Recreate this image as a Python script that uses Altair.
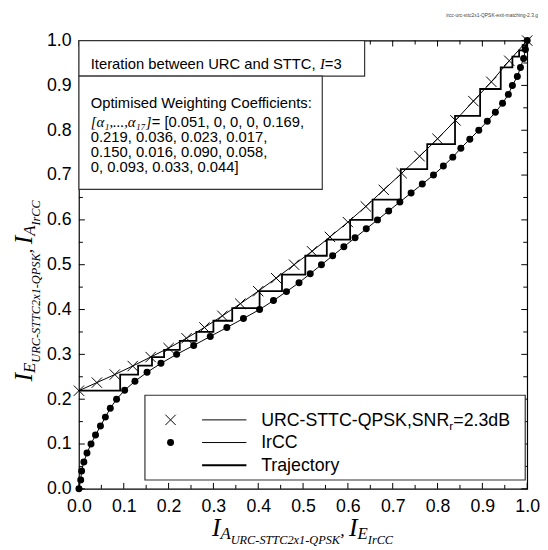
import altair as alt
import pandas as pd

# ---------------- data ----------------
urc_x = [0.00, 0.04, 0.08, 0.12, 0.16, 0.20, 0.24, 0.28, 0.32, 0.36, 0.40, 0.44, 0.48,
         0.52, 0.56, 0.60, 0.64, 0.68, 0.72, 0.76, 0.80, 0.84, 0.88, 0.92, 0.96, 1.00]
urc_y = [0.219, 0.237, 0.255, 0.274, 0.294, 0.314, 0.336, 0.360, 0.386, 0.413, 0.441, 0.470, 0.500,
         0.530, 0.562, 0.595, 0.630, 0.667, 0.704, 0.742, 0.781, 0.822, 0.865, 0.908, 0.955, 1.000]

ircc_y = [0.00, 0.02, 0.04, 0.06, 0.08, 0.10, 0.12, 0.14, 0.16, 0.18, 0.20, 0.22, 0.24, 0.26,
          0.28, 0.30, 0.32, 0.34, 0.36, 0.38, 0.40, 0.42, 0.44, 0.46, 0.48, 0.50, 0.52, 0.54,
          0.56, 0.58, 0.60, 0.62, 0.64, 0.66, 0.68, 0.70, 0.72, 0.74, 0.76, 0.78, 0.80, 0.82,
          0.84, 0.86, 0.88, 0.90, 0.92, 0.94, 0.96, 0.98, 1.00]
ircc_x = [0.000, 0.004, 0.006, 0.011, 0.018, 0.027, 0.037, 0.048, 0.059, 0.070, 0.084, 0.102, 0.125, 0.152,
          0.183, 0.218, 0.256, 0.293, 0.330, 0.367, 0.403, 0.434, 0.463, 0.491, 0.516, 0.541, 0.566, 0.591,
          0.616, 0.641, 0.666, 0.691, 0.716, 0.741, 0.766, 0.791, 0.813, 0.834, 0.852, 0.872, 0.892, 0.911,
          0.929, 0.945, 0.958, 0.967, 0.978, 0.985, 0.992, 0.996, 1.000]

traj_x = [0.000, 0.092, 0.092, 0.132, 0.132, 0.163, 0.163, 0.190, 0.190, 0.225, 0.225, 0.262, 0.262,
          0.300, 0.300, 0.342, 0.342, 0.403, 0.403, 0.453, 0.453, 0.505, 0.505, 0.553, 0.553, 0.605,
          0.605, 0.655, 0.655, 0.718, 0.718, 0.777, 0.777, 0.839, 0.839, 0.895, 0.895, 0.941, 0.941,
          0.967, 0.967, 0.982, 0.982, 0.990, 0.990, 1.000, 1.000]
traj_y = [0.219, 0.219, 0.255, 0.255, 0.275, 0.275, 0.294, 0.294, 0.310, 0.310, 0.330, 0.330, 0.350,
          0.350, 0.375, 0.375, 0.403, 0.403, 0.441, 0.441, 0.478, 0.478, 0.520, 0.520, 0.556, 0.556,
          0.600, 0.600, 0.645, 0.645, 0.713, 0.713, 0.769, 0.769, 0.832, 0.832, 0.892, 0.892, 0.940,
          0.940, 0.964, 0.964, 0.978, 0.978, 0.990, 0.990, 1.000]

major_ticks = [0.0, 0.1, 0.2, 0.3, 0.4, 0.5, 0.6, 0.7, 0.8, 0.9, 1.0]
minor_ticks = [0.05, 0.15, 0.25, 0.35, 0.45, 0.55, 0.65, 0.75, 0.85, 0.95]

legend_labels = ["URC-STTC-QPSK,SNR", "IrCC", "Trajectory"]
box1_text = "Iteration between URC and STTC, "
coef_symbol = "[\u03b1\u2081,...,\u03b1\u2081\u2087]"
box2_lines = ["Optimised Weighting Coefficients:",
              "= [0.051, 0, 0, 0, 0.169,",
              "0.219, 0.036, 0.023, 0.017,",
              "0.150, 0.016, 0.090, 0.058,",
              "0, 0.093, 0.033, 0.044]"]
corner_text = "ircc-urc-sttc2x1-QPSK-exit-matching-2.3.g"

# ---------------- layout helpers ----------------
W = H = 455
SANS = "Liberation Sans"
SERIF = "Liberation Serif"

AR = {' ': 278, ',': 278, '.': 278, '-': 333, '=': 584, '[': 278, ']': 278, ':': 278,
      'A': 667, 'B': 667, 'C': 722, 'D': 722, 'E': 667, 'I': 278, 'K': 667, 'N': 722, 'O': 778,
      'P': 667, 'Q': 778, 'R': 722, 'S': 667, 'T': 611, 'U': 722, 'W': 944,
      'a': 556, 'b': 556, 'c': 500, 'd': 556, 'e': 556, 'f': 278, 'g': 556, 'h': 556, 'i': 222,
      'j': 222, 'l': 222, 'm': 833, 'n': 556, 'o': 556, 'p': 556, 'r': 333, 's': 500, 't': 278,
      'w': 722, 'x': 500, 'y': 500}
for d in "0123456789":
    AR[d] = 556
TI = {' ': 250, ',': 250, '.': 250, '-': 333, '[': 389, ']': 389, 'I': 333, 'A': 611, 'E': 611,
      'U': 722, 'R': 611, 'C': 667, 'S': 500, 'T': 556, 'x': 444, 'Q': 722, 'P': 611, 'K': 667,
      'r': 389, '\u03b1': 520, '\u2081': 330, '\u2087': 330}
for d in "0123456789":
    TI[d] = 500


def width(s, layer, size):
    table = AR if layer == "sans" else TI
    return sum(table.get(c, 500) for c in s) / 1000.0 * size


rows = []


def run(pieces, x0, y0, vertical=False, gap=0.0):
    pos = x0 if not vertical else y0
    for text, size, shift, layer in pieces:
        if vertical:
            rows.append(dict(layer="serif_v", text=text, px=x0 + shift, py=pos, fs=size))
            pos -= width(text, layer, size) + gap
        else:
            rows.append(dict(layer=layer, text=text, px=pos, py=y0 + shift, fs=size))
            pos += width(text, layer, size) + gap


title_pieces = [("I", 26, 0, "serif"), ("A", 17, 3, "serif"), ("URC-STTC2x1-QPSK", 12.5, 8, "serif"),
                (", ", 18, 0, "serif"), ("I", 26, 0, "serif"), ("E", 17, 3, "serif"),
                ("IrCC", 12.5, 8, "serif")]
run(title_pieces, 135, 503)
yt = list(title_pieces)
yt[1] = ("E", 17, 3, "serif")
yt[5] = ("A", 17, 3, "serif")
run(yt, -48, 346, vertical=True)

# box 1 text
run([(box1_text, 15, 0, "sans"), ("I", 15, 0, "serif"), ("=3", 15, 0, "sans")], 12, 28.5)
# box 2 text
rows.append(dict(layer="sans", text=box2_lines[0], px=12, py=68, fs=15))
run([(coef_symbol, 15, 0, "serif"), (box2_lines[1], 15, 0, "sans")], 12, 88, gap=1.0)
for i, line in enumerate(box2_lines[2:]):
    rows.append(dict(layer="sans", text=line, px=12, py=103 + 15 * i, fs=15))

# legend texts
run([(legend_labels[0], 18, 0, "sans"), ("r", 12, 4, "sans"), ("=2.3dB", 18, 0, "sans")], 185, 391)
rows.append(dict(layer="sans", text=legend_labels[1], px=185, py=414, fs=18))
rows.append(dict(layer="sans", text=legend_labels[2], px=185, py=437, fs=18))

text_df = pd.DataFrame(rows)

# ---------------- chart ----------------
xs = alt.Scale(domain=[0, 1], nice=False, zero=False)
ys = alt.Scale(domain=[0, 1], nice=False, zero=False)
x_axis = alt.Axis(values=major_ticks, format=".1f", labelPadding=9, title=None)
y_axis = alt.Axis(values=major_ticks, format=".1f", labelPadding=8, title=None)

urc_df = pd.DataFrame({"x": urc_x, "y": urc_y})
ircc_df = pd.DataFrame({"x": ircc_x, "y": ircc_y, "o": list(range(len(ircc_y)))})
traj_df = pd.DataFrame({"x": traj_x, "y": traj_y, "o": list(range(len(traj_y)))})

X = alt.X("x:Q", scale=xs, axis=x_axis)
Y = alt.Y("y:Q", scale=ys, axis=y_axis)

CROSS = "M-1,-1L1,1M-1,1L1,-1"

urc_line = alt.Chart(urc_df).mark_line(color="black", strokeWidth=1).encode(x=X, y=Y)
urc_pts = alt.Chart(urc_df).mark_point(shape=CROSS, size=110, filled=False, color="black",
                                       strokeWidth=1, opacity=1).encode(x=X, y=Y)
ircc_line = alt.Chart(ircc_df).mark_line(color="black", strokeWidth=1).encode(
    x=X, y=Y, order="o:Q")
ircc_pts = alt.Chart(ircc_df).mark_point(shape="circle", size=50, filled=True, color="black",
                                         opacity=1).encode(x=X, y=Y)
traj_line = alt.Chart(traj_df).mark_line(color="black", strokeWidth=1.8).encode(
    x=X, y=Y, order="o:Q")

maj_df = pd.DataFrame({"v": major_ticks})
min_df = pd.DataFrame({"v": minor_ticks})


def tick_layers(df, L):
    xv = alt.X("v:Q", scale=xs, axis=x_axis)
    yv = alt.Y("v:Q", scale=ys, axis=y_axis)
    base = alt.Chart(df).mark_rule(color="black", strokeWidth=1)
    return [
        base.encode(x=xv, y=alt.value(H), y2=alt.value(H - L)),
        base.encode(x=xv, y=alt.value(0), y2=alt.value(L)),
        base.encode(y=yv, x=alt.value(0), x2=alt.value(L)),
        base.encode(y=yv, x=alt.value(W), x2=alt.value(W - L)),
    ]


one = pd.DataFrame({"a": [0]})
box_style = dict(fill="white", stroke="#333333", strokeWidth=1.2)
box1 = alt.Chart(one).mark_rect(**box_style).encode(
    x=alt.value(0), x2=alt.value(290), y=alt.value(0), y2=alt.value(36))
box2 = alt.Chart(one).mark_rect(**box_style).encode(
    x=alt.value(0), x2=alt.value(247), y=alt.value(36), y2=alt.value(151))
legbox = alt.Chart(one).mark_rect(**box_style).encode(
    x=alt.value(67), x2=alt.value(453), y=alt.value(360), y2=alt.value(446))

leg_cross = alt.Chart(one).mark_point(shape=CROSS, size=110, filled=False, color="black",
                                      strokeWidth=1, opacity=1).encode(
    x=alt.value(93), y=alt.value(385))
leg_dot = alt.Chart(one).mark_point(shape="circle", size=50, filled=True, color="black",
                                    opacity=1).encode(x=alt.value(93), y=alt.value(408))
leg_l1 = alt.Chart(one).mark_rule(color="black", strokeWidth=1).encode(
    x=alt.value(125), x2=alt.value(170), y=alt.value(385))
leg_l2 = alt.Chart(one).mark_rule(color="black", strokeWidth=1).encode(
    x=alt.value(125), x2=alt.value(170), y=alt.value(408))
leg_l3 = alt.Chart(one).mark_rule(color="black", strokeWidth=2).encode(
    x=alt.value(125), x2=alt.value(170), y=alt.value(431))


def text_layer(layer, font, style, angle):
    sub = text_df[text_df["layer"] == layer]
    kw = dict(font=font, align="left", baseline="alphabetic", color="black", angle=angle)
    if style:
        kw["fontStyle"] = style
    return alt.Chart(sub).mark_text(**kw).encode(
        x=alt.X("px:Q", scale=None, axis=None),
        y=alt.Y("py:Q", scale=None, axis=None),
        text="text:N",
        size=alt.Size("fs:Q", scale=None, legend=None),
    )


corner = alt.Chart(one).mark_text(text=corner_text, font=SANS, fontSize=5, align="right",
                                  baseline="alphabetic", color="#444444").encode(
    x=alt.value(466), y=alt.value(-24))

layers = (tick_layers(maj_df, 6) + tick_layers(min_df, 4) +
          [urc_line, ircc_line, traj_line, urc_pts, ircc_pts,
           box1, box2, legbox, leg_cross, leg_dot, leg_l1, leg_l2, leg_l3,
           text_layer("sans", SANS, None, 0),
           text_layer("serif", SERIF, "italic", 0),
           text_layer("serif_v", SERIF, "italic", 270),
           corner])

chart = alt.layer(*layers).properties(
    width=W, height=H,
    autosize=alt.AutoSizeParams(type="none"),
    padding={"left": 72, "top": 29, "right": 13, "bottom": 58},
).configure_view(stroke="black", strokeWidth=1.2).configure_axis(
    labelFont=SANS, labelFontSize=18, labelColor="black", ticks=False, domain=False,
    grid=False, labelFlush=False, labelOverlap=False)

chart.save("out.html", embed_options={"renderer": "svg", "actions": False})
